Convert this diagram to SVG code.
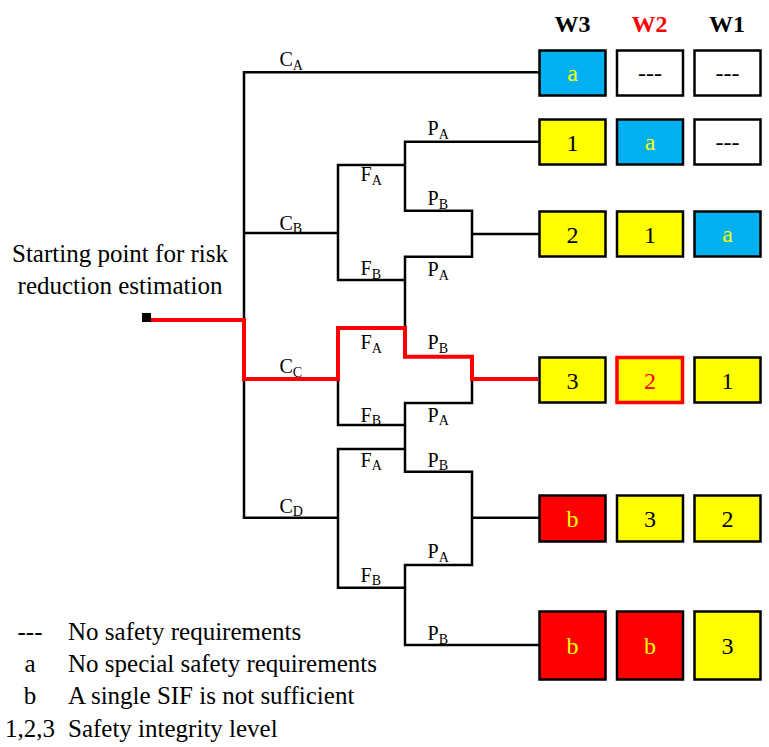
<svg xmlns="http://www.w3.org/2000/svg" width="769" height="747" viewBox="0 0 769 747">
<style>
text{font-family:"Liberation Serif","Times New Roman","DejaVu Serif",serif;}
.ln{stroke:#000;stroke-width:2.5;fill:none;stroke-linecap:square}
.red{stroke:#FF0000;stroke-width:4;fill:none;stroke-linejoin:miter}
.box{stroke:#000;stroke-width:2.5}
.w{fill:#FFFFFF}.y{fill:#FFFF00}.b{fill:#00B0F0}.r{fill:#FF0000}
.bt{font-size:24px;text-anchor:middle}
.ty{fill:#FFFF00}.tk{fill:#000}.tr{fill:#FF0000}
.hd{font-size:24px;font-weight:bold;text-anchor:middle}
.lb{font-size:20px;fill:#000}
.sub{font-size:14px}
.main{font-size:25px;fill:#000}
</style>
<rect width="769" height="747" fill="#fff"/>
<g id="headers">
<text class="hd" x="572.5" y="32" fill="#000">W3</text>
<text class="hd" x="649.5" y="32" fill="#FF0000">W2</text>
<text class="hd" x="727" y="32" fill="#000">W1</text>
</g>
<g id="connectors">
<path class="ln" d="M244,72.3V517.7 M244,72.3H538 M244,233H338 M338,165V280 M338,165H405 M405,141.7V210.7 M405,141.7H538 M405,210.7H472 M472,210.7V256.7 M472,234H538 M338,280H405 M405,256.7H472 M405,256.7V328 M338,379V425 M338,425H405 M405,403V471.7 M405,403H472 M472,379V403 M338,449H405 M405,471.7H472 M244,517.7H338 M338,449V587.7 M472,471.7V565 M472,517.7H538 M405,565H472 M338,587.7H405 M405,565V645 M405,645H538"/>
<path class="red" d="M150,320H244V379H338V328H405V356.7H472V379H538"/>
<rect x="142" y="313" width="9" height="9" fill="#000"/>
</g>
<g id="start">
<text class="main" x="120" y="262" text-anchor="middle">Starting point for risk</text>
<text class="main" x="120" y="293.5" text-anchor="middle">reduction estimation</text>
</g>
<g id="labels">
<text class="lb" x="279.5" y="66">C<tspan class="sub" dy="3.5">A</tspan></text>
<text class="lb" x="279.5" y="229.5">C<tspan class="sub" dy="3.5">B</tspan></text>
<text class="lb" x="279.5" y="373">C<tspan class="sub" dy="3.5">C</tspan></text>
<text class="lb" x="279.5" y="512.5">C<tspan class="sub" dy="3.5">D</tspan></text>
<text class="lb" x="360.5" y="181">F<tspan class="sub" dy="3.5">A</tspan></text>
<text class="lb" x="360.5" y="275">F<tspan class="sub" dy="3.5">B</tspan></text>
<text class="lb" x="360.5" y="349">F<tspan class="sub" dy="3.5">A</tspan></text>
<text class="lb" x="360.5" y="421.5">F<tspan class="sub" dy="3.5">B</tspan></text>
<text class="lb" x="360.5" y="466.5">F<tspan class="sub" dy="3.5">A</tspan></text>
<text class="lb" x="360.5" y="581.5">F<tspan class="sub" dy="3.5">B</tspan></text>
<text class="lb" x="427.5" y="135">P<tspan class="sub" dy="3.5">A</tspan></text>
<text class="lb" x="427.5" y="205">P<tspan class="sub" dy="3.5">B</tspan></text>
<text class="lb" x="427.5" y="276">P<tspan class="sub" dy="3.5">A</tspan></text>
<text class="lb" x="427.5" y="349">P<tspan class="sub" dy="3.5">B</tspan></text>
<text class="lb" x="427.5" y="421.5">P<tspan class="sub" dy="3.5">A</tspan></text>
<text class="lb" x="427.5" y="466.5">P<tspan class="sub" dy="3.5">B</tspan></text>
<text class="lb" x="427.5" y="558">P<tspan class="sub" dy="3.5">A</tspan></text>
<text class="lb" x="427.5" y="640">P<tspan class="sub" dy="3.5">B</tspan></text>
</g>
<g id="row1">
<g id="r1w3"><rect class="box b" x="539.5" y="50.5" width="66" height="45"/><text class="bt ty" x="572.5" y="81">a</text></g>
<g id="r1w2"><rect class="box w" x="617" y="50.5" width="66" height="45"/><text class="bt tk" x="650" y="81">---</text></g>
<g id="r1w1"><rect class="box w" x="694.5" y="50.5" width="66" height="45"/><text class="bt tk" x="727.5" y="81">---</text></g>
</g>
<g id="row2">
<g id="r2w3"><rect class="box y" x="539.5" y="119.5" width="66" height="45"/><text class="bt tk" x="572.5" y="151">1</text></g>
<g id="r2w2"><rect class="box b" x="617" y="119.5" width="66" height="45"/><text class="bt ty" x="650" y="150">a</text></g>
<g id="r2w1"><rect class="box w" x="694.5" y="119.5" width="66" height="45"/><text class="bt tk" x="727.5" y="150">---</text></g>
</g>
<g id="row3">
<g id="r3w3"><rect class="box y" x="539.5" y="211.5" width="66" height="45"/><text class="bt tk" x="572.5" y="243">2</text></g>
<g id="r3w2"><rect class="box y" x="617" y="211.5" width="66" height="45"/><text class="bt tk" x="650" y="243">1</text></g>
<g id="r3w1"><rect class="box b" x="694.5" y="211.5" width="66" height="45"/><text class="bt ty" x="727.5" y="242">a</text></g>
</g>
<g id="row4">
<g id="r4w3"><rect class="box y" x="539.5" y="357.5" width="66" height="45"/><text class="bt tk" x="572.5" y="389">3</text></g>
<g id="r4w2"><rect x="617" y="357.5" width="65.5" height="45" fill="#FFFF00" stroke="#FF0000" stroke-width="3.5"/><text class="bt tr" x="650" y="389">2</text></g>
<g id="r4w1"><rect class="box y" x="694.5" y="357.5" width="66" height="45"/><text class="bt tk" x="727.5" y="389">1</text></g>
</g>
<g id="row5">
<g id="r5w3"><rect class="box r" x="539.5" y="495.5" width="66" height="46"/><text class="bt ty" x="572.5" y="527">b</text></g>
<g id="r5w2"><rect class="box y" x="617" y="495.5" width="66" height="46"/><text class="bt tk" x="650" y="527">3</text></g>
<g id="r5w1"><rect class="box y" x="694.5" y="495.5" width="66" height="46"/><text class="bt tk" x="727.5" y="527">2</text></g>
</g>
<g id="row6">
<g id="r6w3"><rect class="box r" x="539.5" y="611.5" width="66" height="68"/><text class="bt ty" x="572.5" y="654">b</text></g>
<g id="r6w2"><rect class="box r" x="617" y="611.5" width="66" height="68"/><text class="bt ty" x="650" y="654">b</text></g>
<g id="r6w1"><rect class="box y" x="694.5" y="611.5" width="66" height="68"/><text class="bt tk" x="727.5" y="654">3</text></g>
</g>
<g id="legend">
<text class="main" x="30" y="640" text-anchor="middle">---</text>
<text class="main" x="68" y="640">No safety requirements</text>
<text class="main" x="30" y="672" text-anchor="middle">a</text>
<text class="main" x="68" y="672">No special safety requirements</text>
<text class="main" x="30" y="704" text-anchor="middle">b</text>
<text class="main" x="68" y="704">A single SIF is not sufficient</text>
<text class="main" x="30" y="737" text-anchor="middle">1,2,3</text>
<text class="main" x="68" y="737">Safety integrity level</text>
</g>
</svg>
